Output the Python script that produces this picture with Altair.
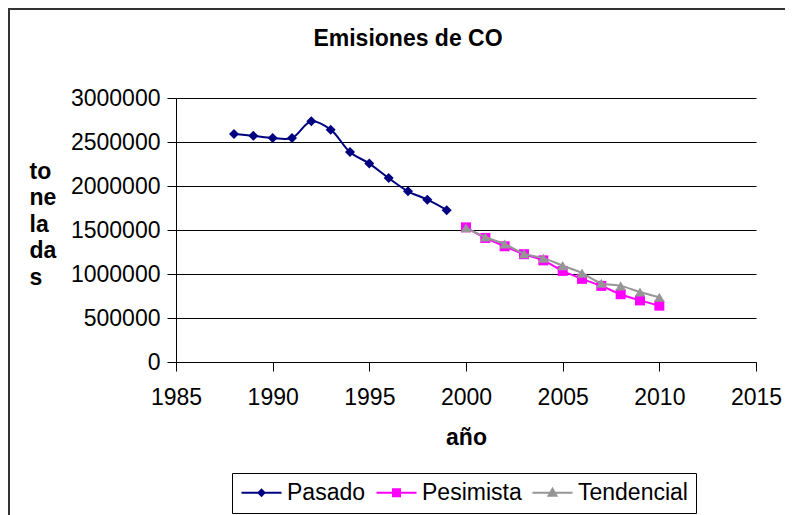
import altair as alt
import pandas as pd

# ---- data ----
anios_pasado = [1988, 1989, 1990, 1991, 1992, 1993, 1994, 1995, 1996, 1997, 1998, 1999]
pasado = [2590000, 2570000, 2545000, 2545000, 2735000, 2640000, 2385000, 2255000,
          2090000, 1940000, 1845000, 1725000]
anios_escenario = [2000, 2001, 2002, 2003, 2004, 2005, 2006, 2007, 2008, 2009, 2010]
pesimista = [1530000, 1410000, 1315000, 1225000, 1155000, 1035000, 945000, 865000,
             770000, 700000, 640000]
tendencial = [1525000, 1420000, 1340000, 1230000, 1180000, 1095000, 1010000, 895000,
              865000, 795000, 735000]

series = ["Pasado", "Pesimista", "Tendencial"]
colores = ["#000080", "#FF00FF", "#969696"]
formas = ["diamond", "square", "triangle-up"]
tamanos = [100, 100, 110]
# legend symbols: short line with the marker in its middle
formas_leyenda = [
    "M-1,0H3M0.7,0L1,-0.3L1.3,0L1,0.3Z",
    "M-1,0H3M0.65,-0.35H1.35V0.35H0.65Z",
    "M-1,0H3M0.6,0.3L1,-0.4L1.4,0.3Z",
]
ticks_x = [1985, 1990, 1995, 2000, 2005, 2010, 2015]
ticks_y = [0, 500000, 1000000, 1500000, 2000000, 2500000, 3000000]

rows = []
for a, v in zip(anios_pasado, pasado):
    rows.append({"serie": "Pasado", "anio": a, "valor": v})
for a, v in zip(anios_escenario, pesimista):
    rows.append({"serie": "Pesimista", "anio": a, "valor": v})
for a, v in zip(anios_escenario, tendencial):
    rows.append({"serie": "Tendencial", "anio": a, "valor": v})
df = pd.DataFrame(rows)

FONT = "Liberation Sans"

x_enc = alt.X(
    "anio:Q",
    scale=alt.Scale(domain=[1985, 2015], nice=False, zero=False),
    axis=alt.Axis(
        values=ticks_x, format="d", grid=False, title="año", labelFlush=False,
        labelFontSize=23, labelFont=FONT, labelColor="black", labelPadding=15,
        tickSize=9, tickColor="black", domainColor="black",
        titleFontSize=23, titleFont=FONT, titleFontWeight="bold", titleColor="black",
        titleY=82, titleBaseline="alphabetic",
    ),
)
y_enc = alt.Y(
    "valor:Q",
    scale=alt.Scale(domain=[0, 3000000], nice=False),
    axis=alt.Axis(
        values=ticks_y, format="d", grid=True, gridColor="black", gridWidth=1,
        labelFlush=False,
        labelFontSize=23, labelFont=FONT, labelColor="black", labelPadding=7,
        tickSize=9, tickColor="black", domainColor="black",
        title=["to", "ne", "la", "da", "s"], titleAngle=0, titleAlign="left",
        titleBaseline="alphabetic", titleX=-147, titleY=80,
        titleFontSize=23, titleFont=FONT, titleFontWeight="bold", titleColor="black",
        titleLineHeight=26.5,
    ),
)

marco = alt.Chart(alt.Data(values=[{}])).mark_rect(
    fill="transparent", stroke="#333333", strokeWidth=2
).encode(
    x=alt.value(-167), x2=alt.value(640),
    y=alt.value(-89), y2=alt.value(460),
)

base = alt.Chart(df)

capas = []
for s, c, f, t in zip(series, colores, formas, tamanos):
    sub = base.transform_filter(alt.datum.serie == s)
    capas.append(
        sub.mark_line(interpolate="catmull-rom", strokeWidth=2, color=c)
        .encode(x=x_enc, y=y_enc)
    )
    capas.append(
        sub.mark_point(shape=f, filled=True, size=t, opacity=1, color=c)
        .encode(x=x_enc, y=y_enc)
    )

ley = dict(
    orient="none", legendX=56, legendY=375, direction="horizontal", title=None,
    labelFontSize=23, labelFont=FONT, labelColor="black", labelOffset=24,
    symbolSize=400, symbolStrokeWidth=2, symbolOpacity=1,
    columnPadding=6, padding=8, strokeColor="black", fillColor="white",
    cornerRadius=0, labelLimit=300,
)
# invisible layer that only carries the legend (line + marker symbols)
leyenda = base.mark_point(filled=True, strokeWidth=2, opacity=0).encode(
    x=x_enc, y=y_enc,
    fill=alt.Fill("serie:N", scale=alt.Scale(domain=series, range=colores), legend=alt.Legend(**ley)),
    stroke=alt.Stroke("serie:N", scale=alt.Scale(domain=series, range=colores), legend=alt.Legend(**ley)),
    shape=alt.Shape("serie:N", scale=alt.Scale(domain=series, range=formas_leyenda), legend=alt.Legend(**ley)),
)

chart = alt.layer(marco, *capas, leyenda).properties(
    width=580, height=264,
    title=alt.Title("Emisiones de CO", fontSize=23, font=FONT, fontWeight="bold",
                    color="black", anchor="middle", frame="group", dx=-58, offset=-43),
    autosize=alt.AutoSizeParams(type="none"),
    padding={"left": 168, "top": 90, "right": 29, "bottom": 160},
    background="white",
).configure_view(stroke=None)

chart.save("out.html", embed_options={"renderer": "svg", "actions": False})
